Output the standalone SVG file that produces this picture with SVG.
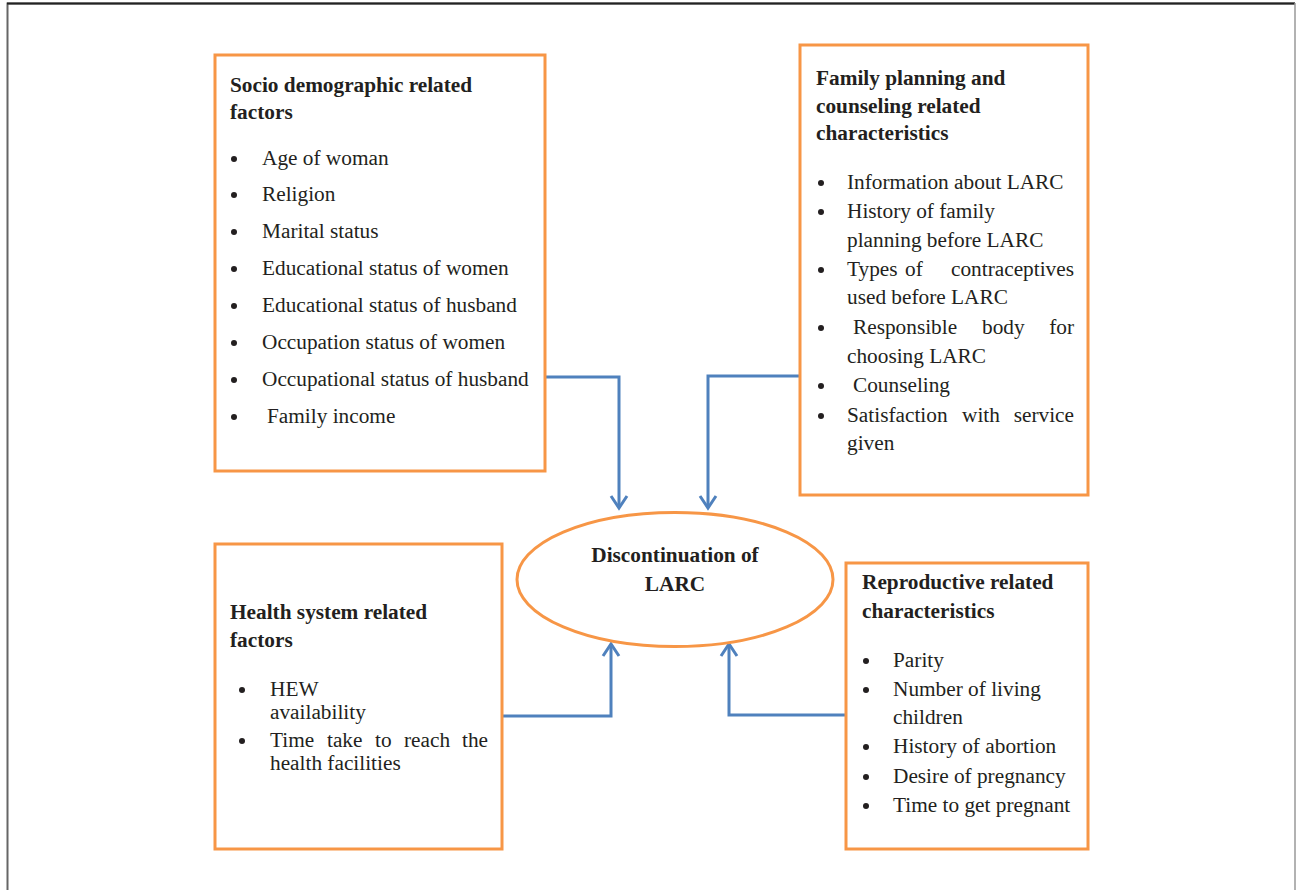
<svg xmlns="http://www.w3.org/2000/svg" width="1296" height="890" viewBox="0 0 1296 890">
<style>
.box{fill:#ffffff;stroke:#f79646;stroke-width:3}
.t{font-family:"Liberation Serif","Times New Roman",serif;font-size:21.3px;fill:#231f20}
.h{font-weight:bold}
.b{fill:#231f20}
.c{fill:none;stroke:#4f81bd;stroke-width:3;stroke-linejoin:miter}
</style>
<defs>
<marker id="arr" markerUnits="userSpaceOnUse" markerWidth="24" markerHeight="24" viewBox="-14 -12 16 24" refX="0" refY="0" orient="auto">
<path d="M-12,-8 L0,0 L-12,8" fill="none" stroke="#4f81bd" stroke-width="3"/>
</marker>
</defs>
<rect x="0" y="0" width="1296" height="890" fill="#ffffff"/>
<path d="M7.5,890 V3.5 H1295" fill="none" stroke="#666" stroke-width="2"/>
<line x1="7" y1="3.5" x2="1295" y2="3.5" stroke="#222" stroke-width="2"/>
<line x1="1295" y1="3" x2="1295" y2="890" stroke="#999" stroke-width="1.5"/>

<g id="connectors">
<path class="c" d="M545,377 H619 V508" marker-end="url(#arr)"/>
<path class="c" d="M800,376 H708 V508" marker-end="url(#arr)"/>
<path class="c" d="M502,716 H611 V644" marker-end="url(#arr)"/>
<path class="c" d="M846,715 H729 V644" marker-end="url(#arr)"/>
</g>

<g id="socio">
<rect class="box" x="215" y="55" width="330" height="416"/>
<text class="t h" x="230" y="92">Socio demographic related</text>
<text class="t h" x="230" y="119">factors</text>
<g class="b">
<circle cx="234" cy="159" r="3"/><circle cx="234" cy="195" r="3"/><circle cx="234" cy="232" r="3"/><circle cx="234" cy="269" r="3"/>
<circle cx="234" cy="306" r="3"/><circle cx="234" cy="343" r="3"/><circle cx="234" cy="380" r="3"/><circle cx="234" cy="417" r="3"/>
</g>
<text class="t" x="262" y="165">Age of woman</text>
<text class="t" x="262" y="201">Religion</text>
<text class="t" x="262" y="238">Marital status</text>
<text class="t" x="262" y="275">Educational status of women</text>
<text class="t" x="262" y="312">Educational status of husband</text>
<text class="t" x="262" y="349">Occupation status of women</text>
<text class="t" x="262" y="386">Occupational status of husband</text>
<text class="t" x="267" y="423">Family income</text>
</g>

<g id="family-planning">
<rect class="box" x="800" y="45" width="288" height="450"/>
<text class="t h" x="816" y="85">Family planning and</text>
<text class="t h" x="816" y="113">counseling related</text>
<text class="t h" x="816" y="140">characteristics</text>
<g class="b">
<circle cx="821" cy="183" r="3"/><circle cx="821" cy="212" r="3"/><circle cx="821" cy="270" r="3"/>
<circle cx="821" cy="328" r="3"/><circle cx="821" cy="386" r="3"/><circle cx="821" cy="416" r="3"/>
</g>
<text class="t" x="847" y="189">Information about LARC</text>
<text class="t" x="847" y="218">History of family</text>
<text class="t" x="847" y="247">planning before LARC</text>
<text class="t" y="276"><tspan x="847">Types</tspan><tspan x="905">of</tspan><tspan x="1074" text-anchor="end">contraceptives</tspan></text>
<text class="t" x="847" y="304">used before LARC</text>
<text class="t" y="334"><tspan x="853">Responsible</tspan><tspan x="982">body</tspan><tspan x="1074" text-anchor="end">for</tspan></text>
<text class="t" x="847" y="363">choosing LARC</text>
<text class="t" x="853" y="392">Counseling</text>
<text class="t" y="422"><tspan x="847">Satisfaction</tspan><tspan x="962">with</tspan><tspan x="1074" text-anchor="end">service</tspan></text>
<text class="t" x="847" y="450">given</text>
</g>

<g id="health-system">
<rect class="box" x="215" y="544" width="287" height="305"/>
<text class="t h" x="230" y="619">Health system related</text>
<text class="t h" x="230" y="647">factors</text>
<g class="b"><circle cx="242" cy="690" r="3"/><circle cx="242" cy="741" r="3"/></g>
<text class="t" x="270" y="696">HEW</text>
<text class="t" x="270" y="719">availability</text>
<text class="t" y="747"><tspan x="270">Time</tspan><tspan x="327">take</tspan><tspan x="375">to</tspan><tspan x="404">reach</tspan><tspan x="488" text-anchor="end">the</tspan></text>
<text class="t" x="270" y="770">health facilities</text>
</g>

<g id="outcome">
<ellipse cx="675" cy="579.5" rx="158" ry="67" fill="#ffffff" stroke="#f79646" stroke-width="3"/>
<text class="t h" x="675" y="562" text-anchor="middle">Discontinuation of</text>
<text class="t h" x="675" y="591" text-anchor="middle">LARC</text>
</g>

<g id="reproductive">
<rect class="box" x="846" y="563" width="242" height="286"/>
<text class="t h" x="862" y="589">Reproductive related</text>
<text class="t h" x="862" y="618">characteristics</text>
<g class="b">
<circle cx="866" cy="661" r="3"/><circle cx="866" cy="690" r="3"/><circle cx="866" cy="747" r="3"/>
<circle cx="866" cy="777" r="3"/><circle cx="866" cy="806" r="3"/>
</g>
<text class="t" x="893" y="667">Parity</text>
<text class="t" x="893" y="696">Number of living</text>
<text class="t" x="893" y="724">children</text>
<text class="t" x="893" y="753">History of abortion</text>
<text class="t" x="893" y="783">Desire of pregnancy</text>
<text class="t" x="893" y="812">Time to get pregnant</text>
</g>
</svg>
